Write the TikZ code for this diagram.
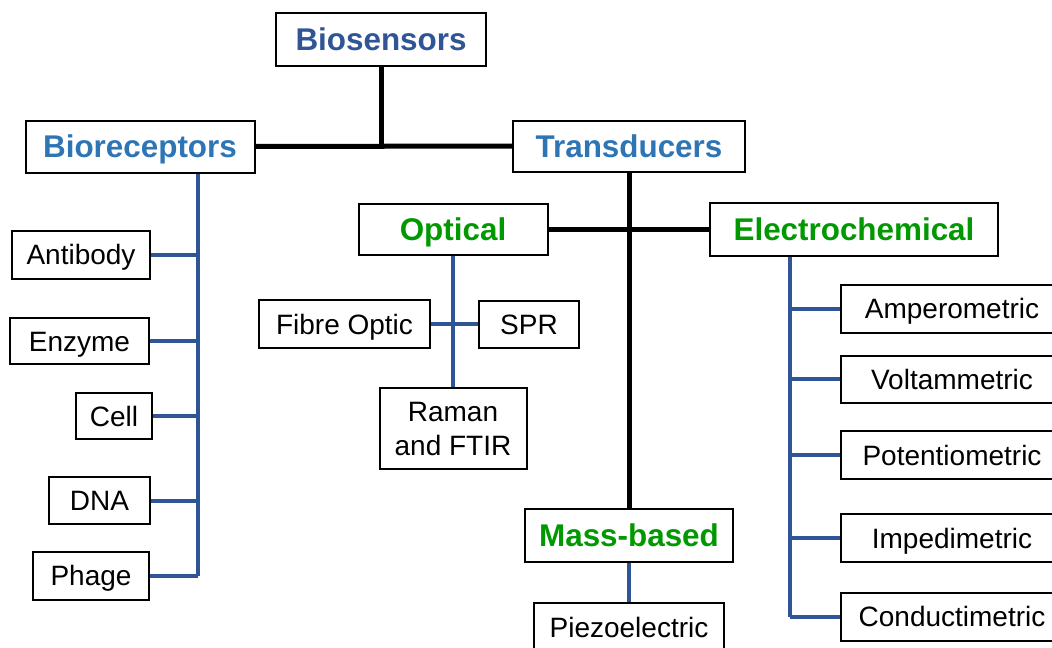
\documentclass[tikz,border=0pt]{standalone}
\usepackage{fontspec}
\setmainfont{Liberation Sans}
\usepackage{tikz}
\usetikzlibrary{positioning}
\definecolor{mydarkblue}{RGB}{47,85,151}
\definecolor{mylightblue}{RGB}{46,117,182}
\definecolor{mygreen}{RGB}{0,153,0}
\tikzset{
  box/.style={draw=black,line width=1pt,fill=white,inner sep=0,align=center,
    text height=10pt,text depth=0pt,
    font=\fontsize{14}{17}\selectfont},
  head/.style={box,text height=11.2pt,font=\fontsize{15.7}{18}\selectfont\bfseries},
  head top/.style={head,text=mydarkblue},
  head main/.style={head,text=mylightblue},
  head sub/.style={head,text=mygreen},
  trunk/.style={line width=2.5pt,black},
  branch/.style={line width=2pt,mydarkblue}
}
\begin{document}
\begin{tikzpicture}[x=0.5pt,y=-0.5pt]
  \useasboundingbox (0,0) rectangle (1052,647);

  % Top levels
  \node[head top, minimum width=105pt, minimum height=26.5pt] (bios) at (381,39.5) {Biosensors};
  \node[head main, minimum width=114.5pt, minimum height=26pt] (biorec) at (140,146.5) {Bioreceptors};
  \node[head main, minimum width=116pt, minimum height=25.5pt] (trans) at (629,146) {Transducers};

  % Transducer types
  \node[head sub, minimum width=94.5pt, minimum height=25.5pt] (optical) at (453,229) {Optical};
  \node[head sub, minimum width=144pt, minimum height=26.5pt] (electro) at (854,229) {Electrochemical};
  \node[head sub, minimum width=104pt, minimum height=26.5pt] (mass) at (629,535) {Mass-based};

  % Bioreceptor types
  \node[box, minimum width=69pt, minimum height=24pt] (antibody) at (81,254.5) {Antibody};
  \node[box, minimum width=69.5pt, minimum height=23pt] (enzyme) at (79.5,341) {Enzyme};
  \node[box, minimum width=38pt, minimum height=23pt] (cell) at (114,416) {Cell};
  \node[box, minimum width=50.5pt, minimum height=23.5pt] (dna) at (99.5,500.5) {DNA};
  \node[box, minimum width=58pt, minimum height=24pt] (phage) at (91,575.5) {Phage};

  % Optical types
  \node[box, minimum width=85.5pt, minimum height=24pt] (fibre) at (344.5,324) {Fibre Optic};
  \node[box, minimum width=50pt, minimum height=23.5pt] (spr) at (529,324) {SPR};
  \node[box, text height=, text depth=, minimum width=73.5pt, minimum height=40.5pt] (raman) at (453,428.5) {Raman\\and FTIR};

  % Electrochemical types
  \node[box, minimum width=111pt, minimum height=24pt] (amp) at (952,308.5) {Amperometric};
  \node[box, minimum width=111pt, minimum height=23.5pt] (volt) at (952,379) {Voltammetric};
  \node[box, minimum width=111pt, minimum height=24pt] (pot) at (952,455) {Potentiometric};
  \node[box, minimum width=111pt, minimum height=24pt] (imp) at (952,538) {Impedimetric};
  \node[box, minimum width=111pt, minimum height=24pt] (cond) at (952,616.5) {Conductimetric};

  % Mass-based type
  \node[box, minimum width=95pt, minimum height=24pt] (piezo) at (629,627) {Piezoelectric};

  % Black trunk lines
  \draw[trunk] (bios.south) -- (bios.south |- biorec.east);
  \draw[trunk] (biorec.east) -- (trans.west);
  \draw[trunk] (trans.south) -- (mass.north);
  \draw[trunk] (optical.east) -- (electro.west);

  % Bioreceptor branches
  \coordinate (rbus) at (197.5,575.5);
  \draw[branch] (biorec.south -| rbus) -- (rbus);
  \foreach \n in {antibody,enzyme,cell,dna,phage}
    \draw[branch] (\n.east) -- (\n.east -| rbus);

  % Optical branches
  \draw[branch] (optical.south) -- (raman.north);
  \draw[branch] (fibre.east) -- (spr.west);

  % Electrochemical branches
  \coordinate (ebus) at (790,616.5);
  \draw[branch] (electro.south -| ebus) -- (ebus);
  \foreach \n in {amp,volt,pot,imp,cond}
    \draw[branch] (\n.west) -- (\n.west -| ebus);

  % Mass-based branch
  \draw[branch] (mass.south) -- (piezo.north);

\end{tikzpicture}
\end{document}
